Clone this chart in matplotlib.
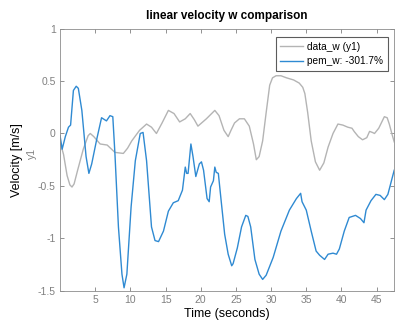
import matplotlib
matplotlib.use('Agg')
import matplotlib.pyplot as plt
from matplotlib.ticker import FuncFormatter

plt.rcParams['font.family'] = ['Liberation Sans', 'DejaVu Sans']

# data_w (y1)
data_t = [0.0, 0.5, 1.0, 1.4, 1.7, 2.0, 2.5, 3.3, 4.0, 4.3, 4.8, 5.7, 6.7, 7.8, 9.0,
          9.6, 10.2, 11.3, 12.3, 13.0, 13.7, 14.5, 15.4, 16.2, 17.0, 17.8, 18.5,
          19.1, 19.6, 20.8, 22.0, 22.6, 23.3, 23.9, 24.3, 24.8, 25.5, 26.2, 26.9,
          27.5, 27.9, 28.3, 28.8, 29.3, 29.8, 30.2, 30.7, 31.4, 32.2, 33.2, 34.0,
          34.5, 34.8, 35.2, 35.7, 36.3, 36.9, 37.5, 38.1, 38.8, 39.5, 40.2, 40.9,
          41.5, 41.8, 42.4, 43.0, 43.6, 44.0, 44.4, 44.7, 45.3, 46.1, 46.5, 46.8,
          47.2, 47.5]
data_w = [-0.08, -0.2, -0.4, -0.49, -0.51, -0.48, -0.35, -0.15, -0.02, 0.0, -0.03,
          -0.1, -0.11, -0.18, -0.19, -0.14, -0.07, 0.03, 0.09, 0.06, 0.0, 0.1,
          0.22, 0.19, 0.11, 0.14, 0.19, 0.13, 0.07, 0.14, 0.22, 0.17, 0.03, -0.03,
          0.03, 0.1, 0.14, 0.14, 0.07, -0.1, -0.25, -0.22, -0.07, 0.2, 0.46, 0.53,
          0.55, 0.55, 0.53, 0.51, 0.48, 0.44, 0.38, 0.2, -0.07, -0.27, -0.35, -0.28,
          -0.13, 0.0, 0.09, 0.08, 0.06, 0.05, 0.02, -0.03, -0.06, -0.04, 0.02, 0.01,
          0.0, 0.05, 0.16, 0.15, 0.09, -0.01, -0.08]

# pem_w
pem_t = [0.0, 0.3, 0.75, 1.2, 1.5, 1.9, 2.3, 2.6, 3.1, 3.7, 4.1, 4.5, 5.2, 5.9, 6.6,
         7.1, 7.5, 7.8, 8.3, 8.8, 9.1, 9.5, 10.1, 10.7, 11.4, 11.8, 12.3, 13.0, 13.5,
         14.0, 14.7, 15.4, 16.1, 16.8, 17.4, 17.8, 18.0, 18.2, 18.6, 18.9, 19.3,
         19.8, 20.1, 20.4, 20.9, 21.2, 21.4, 21.8, 22.0, 22.2, 22.5, 22.9, 23.4,
         23.9, 24.4, 24.6, 25.2, 25.8, 26.4, 26.7, 27.1, 27.7, 28.3, 28.8, 29.3,
         30.3, 31.4, 32.6, 33.6, 34.2, 34.4, 35.0, 35.7, 36.4, 36.9, 37.6, 38.1,
         38.8, 39.3, 39.7, 40.4, 41.1, 42.0, 42.7, 43.2, 43.5, 44.2, 44.9, 45.5,
         46.1, 46.6, 47.5]
pem_w = [-0.02, -0.15, -0.03, 0.06, 0.08, 0.41, 0.45, 0.43, 0.22, -0.22, -0.38,
         -0.29, -0.06, 0.15, 0.12, 0.17, 0.16, -0.19, -0.89, -1.34, -1.47, -1.34,
         -0.7, -0.26, 0.0, 0.01, -0.26, -0.89, -1.02, -1.03, -0.93, -0.74, -0.66,
         -0.64, -0.54, -0.32, -0.38, -0.38, -0.1, -0.22, -0.41, -0.29, -0.27, -0.35,
         -0.62, -0.65, -0.51, -0.45, -0.32, -0.37, -0.38, -0.64, -0.96, -1.15, -1.26,
         -1.24, -1.09, -0.89, -0.78, -0.79, -0.89, -1.2, -1.34, -1.39, -1.35, -1.18,
         -0.93, -0.73, -0.62, -0.57, -0.65, -0.73, -0.93, -1.12, -1.16, -1.2, -1.15,
         -1.14, -1.15, -1.1, -0.93, -0.8, -0.78, -0.81, -0.85, -0.73, -0.64, -0.58,
         -0.59, -0.63, -0.58, -0.35]

xticks = [5, 10, 15, 20, 25, 30, 35, 40, 45]
yticks = [-1.5, -1, -0.5, 0, 0.5, 1]

grey_txt = '#808080'

fig = plt.figure(figsize=(3.95, 3.24), dpi=100)
ax = fig.add_axes([0.152, 0.102, 0.846, 0.81])

ax.plot(data_t, data_w, color='#b4b4b4', lw=1.0, label='data_w (y1)')
ax.plot(pem_t, pem_w, color='#2f8ad2', lw=1.0, label='pem_w: -301.7%')

ax.set_xlim(0, 47.5)
ax.set_ylim(-1.5, 1)
ax.set_xticks(xticks)
ax.set_yticks(yticks)
ax.yaxis.set_major_formatter(FuncFormatter(lambda v, p: ('%g' % v)))
ax.tick_params(direction='in', top=True, right=True, length=3, width=0.6,
               labelsize=7.5, colors=grey_txt, pad=3)
for s in ax.spines.values():
    s.set_color('#8c8c8c')
    s.set_linewidth(0.6)

ax.set_title('linear velocity w comparison', fontsize=8.5, fontweight='bold', pad=7)
ax.set_xlabel('Time (seconds)', fontsize=9, labelpad=2)
ax.set_ylabel('Velocity [m/s]', fontsize=9, labelpad=11)
fig.text(32 / 395, 1 - 153 / 324, 'y1', rotation=90, fontsize=7.5, color=grey_txt,
         ha='center', va='center')

leg = ax.legend(loc='upper right', fontsize=7.3, frameon=True, fancybox=False,
                bbox_to_anchor=(388 / 395, 1 - 37 / 324), bbox_transform=fig.transFigure,
                borderaxespad=0.0, handlelength=2.3, handletextpad=0.4,
                borderpad=0.45, labelspacing=0.45)
leg.get_frame().set_edgecolor('#333333')
leg.get_frame().set_linewidth(0.8)

fig.savefig('out.png', dpi=100)
